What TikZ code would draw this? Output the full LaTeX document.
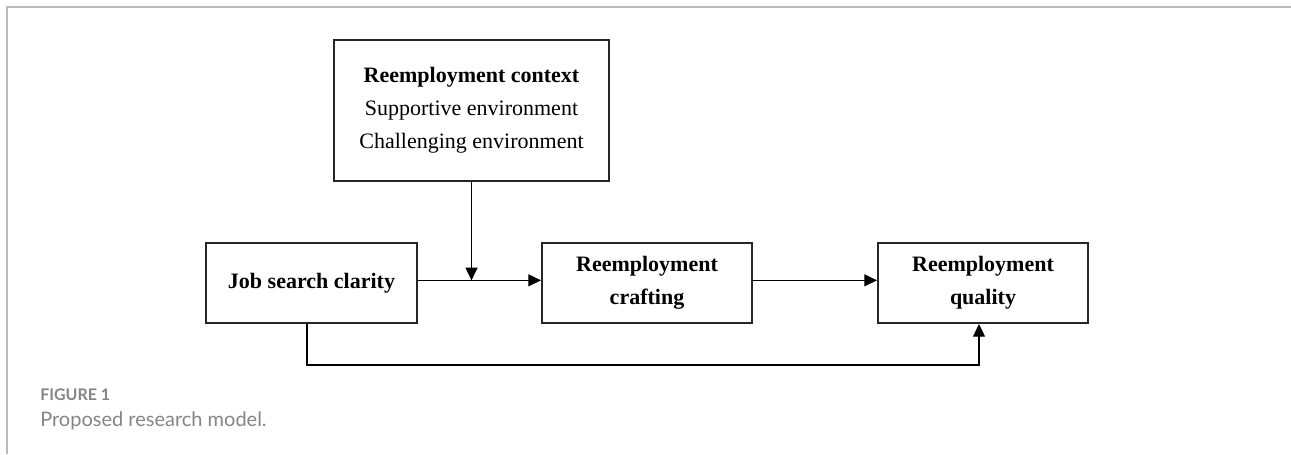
\documentclass[tikz,border=0pt]{standalone}
\usepackage{fontspec}
\setmainfont{Liberation Serif}
\newfontfamily\capfont{Lato}
\usetikzlibrary{arrows.meta,calc}
\definecolor{framegray}{HTML}{BBBBBB}
\definecolor{capgray}{HTML}{858585}
\tikzset{
	box/.style={draw=black!85,line width=1.5pt,minimum width=210*0.75pt,minimum height=80*0.75pt,align=center,inner sep=0pt},
	link/.style={line width=0.9pt,-{Triangle[length=9.5pt,width=9pt]}}
}
\begin{document}
\begin{tikzpicture}[x=0.75pt,y=-0.75pt,font=\fontsize{16.5}{24.75}\selectfont]
			\useasboundingbox (0,0) rectangle (1291,454);
			\draw[framegray,line width=1.2pt] (7,454) -- (7,7) -- (1291,7);

			\node[box,minimum width=275*0.75pt,minimum height=141*0.75pt] (ctx) at (471.5,110.5) {\textbf{Reemployment context}\\Supportive environment\\Challenging environment};
			\node[box,minimum width=211*0.75pt] (job) at (311.5,283) {\textbf{Job search clarity}};
			\node[box] (craft) at (647,283) {\textbf{Reemployment}\\\textbf{crafting}};
			\node[box] (qual) at (983,283) {\textbf{Reemployment}\\\textbf{quality}};

			\coordinate (mod) at ([yshift=2pt]ctx.south |- job.east);
			\draw[link] ([yshift=2pt]job.east) -- ([yshift=2pt]craft.west);
			\draw[link] (ctx.south) -- (mod);
			\draw[link] ([yshift=2pt]craft.east) -- ([yshift=2pt]qual.west);
			\draw[link] ([xshift=-4.5*0.75pt]job.south) -- ++(0,41) -| ([xshift=-4*0.75pt]qual.south);

			\node[anchor=base west,inner sep=0pt,capgray,font=\capfont\fontsize{12}{14}\selectfont\bfseries] (fig) at (40,400) {FIGURE 1};
			\node[anchor=base west,inner sep=0pt,capgray,font=\capfont\fontsize{15}{18}\selectfont] (cap) at (40,426) {Proposed research model.};
		\end{tikzpicture}
\end{document}
